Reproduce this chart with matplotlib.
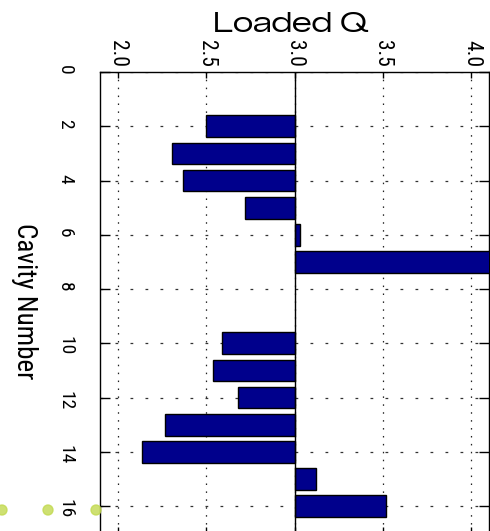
import numpy as np
import matplotlib
matplotlib.use("Agg")
import matplotlib.pyplot as plt
from matplotlib.patches import Ellipse

cavities = [2, 3, 4, 5, 6, 7, 10, 11, 12, 13, 14, 15, 16]
loaded_q = [2.50, 2.31, 2.37, 2.72, 3.03, 4.30, 2.59, 2.54, 2.68, 2.27, 2.14, 3.12, 3.52]
base_q = 3.0
q_ticks = [2.0, 2.5, 3.0, 3.5, 4.0]
q_labels = ["2.0", "2.5", "3.0", "3.5", "4.0"]
cav_ticks = [0, 2, 4, 6, 8, 10, 12, 14, 16]

narrow = ["Roboto Condensed", "Liberation Sans", "DejaVu Sans"]
wide = ["Zalando Sans Expanded", "Liberation Sans", "DejaVu Sans"]
plt.rcParams["font.family"] = narrow
plt.rcParams["lines.scale_dashes"] = False

fig = plt.figure(figsize=(4.9, 5.31), dpi=100)
ax = fig.add_axes([100 / 490, -2.3 / 531, 389 / 490, 461.3 / 531])

widths = np.array(loaded_q) - base_q
ax.barh(cavities, widths, left=base_q, height=0.8, color="#00008c",
        edgecolor="black", linewidth=1.0, zorder=3)
ax.axvline(base_q, color="black", linewidth=1.0, zorder=4)

ax.set_xlim(1.9, 4.1)
ax.set_ylim(17, 0)
ax.set_xticks(q_ticks)
ax.set_xticklabels(q_labels)
ax.set_yticks(cav_ticks)

# dotted grid, different spacing in each direction like the original
for t in q_ticks:
    ax.axvline(t, color="#222222", linewidth=0.9, linestyle=(0, (1.1, 4.6)), zorder=1)
for t in cav_ticks:
    ax.axhline(t, color="#333333", linewidth=0.9, linestyle=(0, (2.0, 8.8)), zorder=1)

ax.tick_params(axis="x", top=True, bottom=True, labeltop=True, labelbottom=False,
               direction="in", length=4, width=1, pad=3.6, labelsize=15.5,
               labelrotation=-90)
ax.tick_params(axis="y", left=True, right=True, direction="in", length=7,
               width=1, pad=18.7, labelsize=14, labelrotation=-90)
for s in ax.spines.values():
    s.set_linewidth(1.0)

fig.text(291 / 490, 1 - 31.7 / 531, "Loaded Q", ha="center", va="baseline",
         fontsize=20, family=wide)
fig.text(24 / 490, 1 - 301.5 / 531, "Cavity Number", ha="center", va="center",
         rotation=-90, fontsize=19.5)

# faint slide decoration dots at the lower left
for cx in [2 / 490, 48 / 490, 96 / 490]:
    fig.add_artist(Ellipse((cx, 1 - 510 / 531), 10 / 490, 10 / 531,
                           transform=fig.transFigure, color="#c2d94f", alpha=0.8))

fig.savefig("out.png", dpi=100)
